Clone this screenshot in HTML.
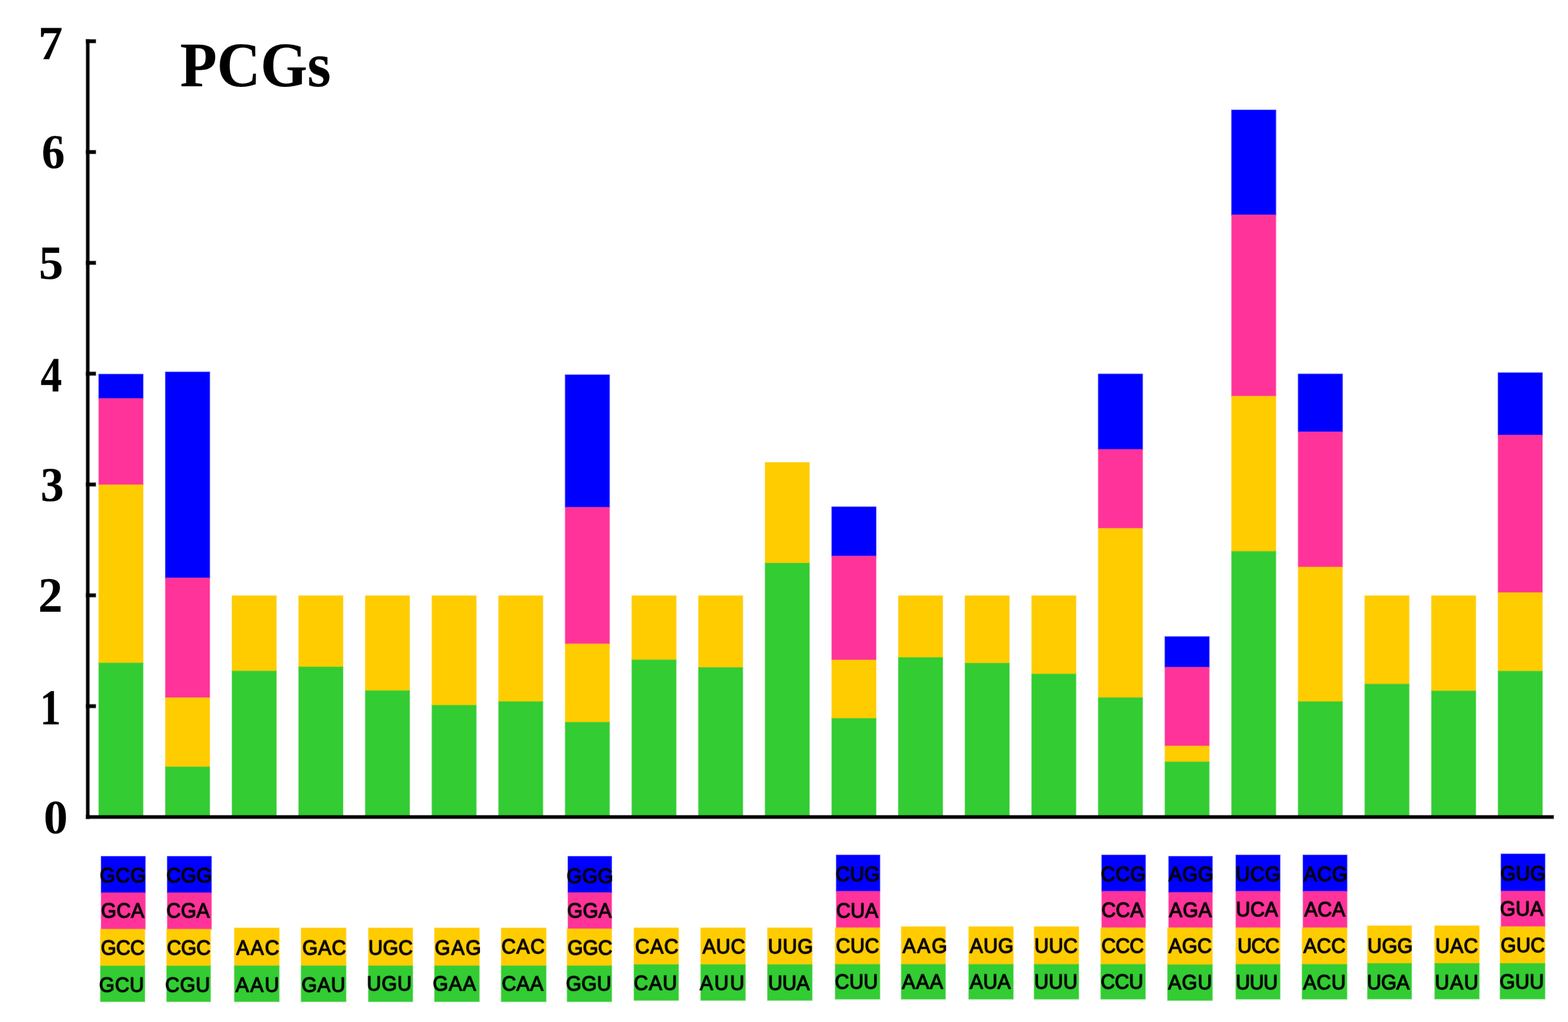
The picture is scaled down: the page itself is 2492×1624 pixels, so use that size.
<!DOCTYPE html>
<html lang="en"><head><meta charset="utf-8"><title>PCGs</title>
<style>
html,body{margin:0;padding:0;background:#fff;}
body{width:2492px;height:1624px;overflow:hidden;}
svg{display:block;}
#chart{width:2492px;height:1624px;overflow:hidden;}
text{font-kerning:none;text-rendering:geometricPrecision;}
.tk{font-family:"Liberation Serif","Times New Roman",serif;font-weight:bold;font-size:77px;fill:#000;stroke:#000;stroke-width:0.5;stroke-opacity:0.4;stroke-linejoin:round;}
.ti{font-family:"Liberation Serif","Times New Roman",serif;font-weight:bold;font-size:98px;fill:#000;stroke:#000;stroke-width:0.5;stroke-opacity:0.4;stroke-linejoin:round;}
.lg{font-family:"Liberation Sans",Arial,Helvetica,sans-serif;font-size:31.5px;fill:#000;stroke:#000;stroke-width:1.7;stroke-opacity:0.75;stroke-linejoin:round;}
rect{stroke-width:1.8;stroke-opacity:0.5;}
.b{fill:#0000ff;stroke:#0000ff}.p{fill:#ff3399;stroke:#ff3399}.y{fill:#ffcc00;stroke:#ffcc00}.g{fill:#33cc33;stroke:#33cc33}
#axes rect{stroke:#000}
</style></head><body><div id="chart">
<svg width="2492" height="1624" viewBox="0 0 2492 1624">
<g>
<rect x="-20" y="-20" width="2532" height="1664" fill="#fff"/>
<g id="bars">
<rect class="b" x="157.15" y="594.75" width="70.10" height="38.45"/>
<rect class="p" x="157.15" y="633.35" width="70.10" height="137.05"/>
<rect class="y" x="157.15" y="770.55" width="70.10" height="282.95"/>
<rect class="g" x="157.15" y="1053.65" width="70.10" height="243.35"/>
<rect class="b" x="263.05" y="591.25" width="70.10" height="327.15"/>
<rect class="p" x="263.05" y="918.55" width="70.10" height="190.15"/>
<rect class="y" x="263.05" y="1108.85" width="70.10" height="109.75"/>
<rect class="g" x="263.05" y="1218.75" width="70.10" height="78.25"/>
<rect class="y" x="368.95" y="946.75" width="70.10" height="119.55"/>
<rect class="g" x="368.95" y="1066.45" width="70.10" height="230.55"/>
<rect class="y" x="474.85" y="946.75" width="70.10" height="113.05"/>
<rect class="g" x="474.85" y="1059.95" width="70.10" height="237.05"/>
<rect class="y" x="580.75" y="946.75" width="70.10" height="150.75"/>
<rect class="g" x="580.75" y="1097.65" width="70.10" height="199.35"/>
<rect class="y" x="686.65" y="946.75" width="70.10" height="173.95"/>
<rect class="g" x="686.65" y="1120.85" width="70.10" height="176.15"/>
<rect class="y" x="792.55" y="946.75" width="70.10" height="168.15"/>
<rect class="g" x="792.55" y="1115.05" width="70.10" height="181.95"/>
<rect class="b" x="898.45" y="595.75" width="70.10" height="210.35"/>
<rect class="p" x="898.45" y="806.25" width="70.10" height="216.95"/>
<rect class="y" x="898.45" y="1023.35" width="70.10" height="124.35"/>
<rect class="g" x="898.45" y="1147.85" width="70.10" height="149.15"/>
<rect class="y" x="1004.35" y="946.75" width="70.10" height="101.85"/>
<rect class="g" x="1004.35" y="1048.75" width="70.10" height="248.25"/>
<rect class="y" x="1110.25" y="946.75" width="70.10" height="113.95"/>
<rect class="g" x="1110.25" y="1060.85" width="70.10" height="236.15"/>
<rect class="y" x="1216.15" y="734.95" width="70.10" height="159.95"/>
<rect class="g" x="1216.15" y="895.05" width="70.10" height="401.95"/>
<rect class="b" x="1322.05" y="805.55" width="70.10" height="78.05"/>
<rect class="p" x="1322.05" y="883.75" width="70.10" height="165.05"/>
<rect class="y" x="1322.05" y="1048.95" width="70.10" height="92.65"/>
<rect class="g" x="1322.05" y="1141.75" width="70.10" height="155.25"/>
<rect class="y" x="1427.95" y="946.75" width="70.10" height="98.05"/>
<rect class="g" x="1427.95" y="1044.95" width="70.10" height="252.05"/>
<rect class="y" x="1533.85" y="946.75" width="70.10" height="107.15"/>
<rect class="g" x="1533.85" y="1054.05" width="70.10" height="242.95"/>
<rect class="y" x="1639.75" y="946.75" width="70.10" height="124.35"/>
<rect class="g" x="1639.75" y="1071.25" width="70.10" height="225.75"/>
<rect class="b" x="1745.65" y="594.45" width="70.10" height="119.65"/>
<rect class="p" x="1745.65" y="714.25" width="70.10" height="125.35"/>
<rect class="y" x="1745.65" y="839.75" width="70.10" height="268.85"/>
<rect class="g" x="1745.65" y="1108.75" width="70.10" height="188.25"/>
<rect class="b" x="1851.55" y="1011.75" width="70.10" height="48.45"/>
<rect class="p" x="1851.55" y="1060.35" width="70.10" height="125.15"/>
<rect class="y" x="1851.55" y="1185.65" width="70.10" height="25.05"/>
<rect class="g" x="1851.55" y="1210.85" width="70.10" height="86.15"/>
<rect class="b" x="1957.45" y="174.95" width="70.10" height="166.55"/>
<rect class="p" x="1957.45" y="341.65" width="70.10" height="287.95"/>
<rect class="y" x="1957.45" y="629.75" width="70.10" height="246.45"/>
<rect class="g" x="1957.45" y="876.35" width="70.10" height="420.65"/>
<rect class="b" x="2063.35" y="594.45" width="70.10" height="91.85"/>
<rect class="p" x="2063.35" y="686.45" width="70.10" height="214.65"/>
<rect class="y" x="2063.35" y="901.25" width="70.10" height="213.65"/>
<rect class="g" x="2063.35" y="1115.05" width="70.10" height="181.95"/>
<rect class="y" x="2169.25" y="946.75" width="70.10" height="140.35"/>
<rect class="g" x="2169.25" y="1087.25" width="70.10" height="209.75"/>
<rect class="y" x="2275.15" y="946.75" width="70.10" height="151.25"/>
<rect class="g" x="2275.15" y="1098.15" width="70.10" height="198.85"/>
<rect class="b" x="2381.05" y="592.45" width="70.10" height="98.95"/>
<rect class="p" x="2381.05" y="691.55" width="70.10" height="250.15"/>
<rect class="y" x="2381.05" y="941.85" width="70.10" height="124.65"/>
<rect class="g" x="2381.05" y="1066.65" width="70.10" height="230.35"/>
</g>
<g id="axes" fill="#000">
<rect x="137.15" y="62.95" width="4.65" height="1237.70"/>
<rect x="137.15" y="1295.85" width="2331.80" height="4.80"/>
<rect x="137.15" y="1119.55" width="14.80" height="5.10"/>
<rect x="137.15" y="943.45" width="14.80" height="5.10"/>
<rect x="137.15" y="767.35" width="14.80" height="5.10"/>
<rect x="137.15" y="591.25" width="14.80" height="5.10"/>
<rect x="137.15" y="415.15" width="14.80" height="5.10"/>
<rect x="137.15" y="239.05" width="14.80" height="5.10"/>
<rect x="137.15" y="62.95" width="14.80" height="5.10"/>
</g>
<g id="ylabels">
<text class="tk" transform="translate(60.80 93.50) scale(1.0106 0.9836)">7</text>
<text class="tk" transform="translate(66.20 267.40) scale(0.9543 1.0012)">6</text>
<text class="tk" transform="translate(61.70 442.60) scale(1.0087 0.9827)">5</text>
<text class="tk" transform="translate(64.40 621.90) scale(0.8822 1.0188)">4</text>
<text class="tk" transform="translate(64.40 795.80) scale(0.9589 1.0021)">3</text>
<text class="tk" transform="translate(60.80 971.80) scale(1.0056 1.0204)">2</text>
<text class="tk" transform="translate(63.50 1150.70) scale(0.8622 1.0374)">1</text>
<text class="tk" transform="translate(69.40 1323.50) scale(0.9891 0.9854)">0</text>
</g>
<g id="title">
<text class="ti" transform="translate(286.20 137.40) scale(0.9777 1.0285)">PCGs</text>
</g>
<g id="legend">
<rect class="b" x="160.95" y="1360.95" width="69.80" height="57.75"/>
<rect class="p" x="160.95" y="1418.85" width="69.80" height="57.65"/>
<rect class="y" x="159.75" y="1476.65" width="70.20" height="58.25"/>
<rect class="g" x="159.75" y="1535.05" width="70.20" height="56.50"/>
<rect class="b" x="266.05" y="1360.95" width="69.80" height="57.75"/>
<rect class="p" x="266.05" y="1418.85" width="69.80" height="57.65"/>
<rect class="y" x="265.05" y="1476.65" width="69.40" height="58.25"/>
<rect class="g" x="265.05" y="1535.05" width="69.40" height="56.50"/>
<rect class="y" x="372.65" y="1474.75" width="70.90" height="59.95"/>
<rect class="g" x="372.65" y="1534.85" width="70.90" height="56.70"/>
<rect class="y" x="478.75" y="1474.75" width="71.00" height="59.95"/>
<rect class="g" x="478.75" y="1534.85" width="71.00" height="56.70"/>
<rect class="y" x="585.65" y="1474.75" width="70.10" height="59.95"/>
<rect class="g" x="585.65" y="1534.85" width="70.10" height="56.70"/>
<rect class="y" x="690.75" y="1474.75" width="70.90" height="59.95"/>
<rect class="g" x="690.75" y="1534.85" width="70.90" height="56.70"/>
<rect class="y" x="796.75" y="1474.75" width="71.00" height="59.95"/>
<rect class="g" x="796.75" y="1534.85" width="71.00" height="56.70"/>
<rect class="b" x="902.85" y="1360.95" width="69.10" height="57.55"/>
<rect class="p" x="902.85" y="1418.65" width="69.10" height="57.25"/>
<rect class="y" x="901.45" y="1476.05" width="70.50" height="58.65"/>
<rect class="g" x="901.45" y="1534.85" width="70.50" height="56.70"/>
<rect class="y" x="1007.75" y="1474.55" width="70.50" height="58.25"/>
<rect class="g" x="1007.75" y="1532.95" width="70.50" height="56.60"/>
<rect class="y" x="1113.85" y="1474.55" width="70.60" height="58.25"/>
<rect class="g" x="1113.85" y="1532.95" width="70.60" height="56.60"/>
<rect class="y" x="1219.95" y="1474.55" width="70.60" height="58.25"/>
<rect class="g" x="1219.95" y="1532.95" width="70.60" height="56.60"/>
<rect class="b" x="1329.25" y="1358.85" width="69.00" height="57.55"/>
<rect class="p" x="1329.25" y="1416.55" width="69.00" height="57.65"/>
<rect class="y" x="1327.55" y="1474.35" width="70.70" height="58.05"/>
<rect class="g" x="1327.55" y="1532.55" width="70.70" height="55.00"/>
<rect class="y" x="1432.55" y="1472.65" width="69.90" height="59.75"/>
<rect class="g" x="1432.55" y="1532.55" width="69.90" height="55.00"/>
<rect class="y" x="1539.75" y="1472.65" width="70.50" height="59.75"/>
<rect class="g" x="1539.75" y="1532.55" width="70.50" height="55.00"/>
<rect class="y" x="1643.75" y="1472.65" width="70.50" height="59.75"/>
<rect class="g" x="1643.75" y="1532.55" width="70.50" height="55.00"/>
<rect class="b" x="1751.15" y="1358.85" width="69.20" height="57.55"/>
<rect class="p" x="1751.15" y="1416.55" width="69.20" height="57.65"/>
<rect class="y" x="1749.65" y="1474.35" width="70.50" height="58.05"/>
<rect class="g" x="1749.65" y="1532.55" width="70.50" height="55.00"/>
<rect class="b" x="1857.55" y="1360.95" width="69.10" height="57.15"/>
<rect class="p" x="1857.55" y="1418.25" width="69.10" height="55.95"/>
<rect class="y" x="1855.75" y="1474.35" width="70.90" height="58.65"/>
<rect class="g" x="1855.75" y="1533.15" width="70.90" height="56.50"/>
<rect class="b" x="1964.35" y="1358.85" width="69.90" height="57.55"/>
<rect class="p" x="1964.35" y="1416.55" width="69.90" height="57.65"/>
<rect class="y" x="1964.35" y="1474.35" width="69.90" height="58.05"/>
<rect class="g" x="1964.35" y="1532.55" width="69.90" height="55.00"/>
<rect class="b" x="2071.05" y="1358.85" width="69.60" height="57.55"/>
<rect class="p" x="2071.05" y="1416.55" width="69.60" height="57.65"/>
<rect class="y" x="2069.55" y="1474.35" width="71.00" height="58.05"/>
<rect class="g" x="2069.55" y="1532.55" width="71.00" height="55.00"/>
<rect class="y" x="2173.45" y="1471.25" width="69.80" height="59.65"/>
<rect class="g" x="2173.45" y="1531.05" width="69.80" height="56.30"/>
<rect class="y" x="2280.35" y="1471.25" width="70.40" height="59.65"/>
<rect class="g" x="2280.35" y="1531.05" width="70.40" height="56.30"/>
<rect class="b" x="2385.75" y="1357.15" width="69.50" height="58.85"/>
<rect class="p" x="2385.75" y="1416.15" width="69.50" height="56.35"/>
<rect class="y" x="2384.25" y="1472.65" width="71.00" height="58.25"/>
<rect class="g" x="2384.25" y="1531.05" width="71.00" height="56.30"/>
<text class="lg" transform="translate(158.50 1401.50) scale(1.0000 1.0400)" letter-spacing="0.69">GCG</text>
<text class="lg" transform="translate(160.60 1458.20) scale(1.0000 1.0400)" letter-spacing="0.20">GCA</text>
<text class="lg" transform="translate(160.20 1517.10) scale(1.0000 1.0400)" letter-spacing="-0.27">GCC</text>
<text class="lg" transform="translate(157.50 1575.90) scale(1.0000 1.0400)" letter-spacing="0.68">GCU</text>
<text class="lg" transform="translate(264.60 1401.90) scale(1.0000 1.0400)" letter-spacing="0.21">CGG</text>
<text class="lg" transform="translate(264.60 1458.20) scale(1.0000 1.0400)" letter-spacing="0.20">CGA</text>
<text class="lg" transform="translate(265.20 1517.10) scale(1.0000 1.0400)" letter-spacing="-0.27">CGC</text>
<text class="lg" transform="translate(262.50 1575.90) scale(1.0000 1.0400)" letter-spacing="0.68">CGU</text>
<text class="lg" transform="translate(375.60 1517.10) scale(1.0000 1.0400)" letter-spacing="1.63">AAC</text>
<text class="lg" transform="translate(374.60 1576.30) scale(1.0000 1.0400)" letter-spacing="2.08">AAU</text>
<text class="lg" transform="translate(480.40 1517.10) scale(1.0000 1.0400)" letter-spacing="0.68">GAC</text>
<text class="lg" transform="translate(479.20 1575.90) scale(1.0000 1.0400)" letter-spacing="0.66">GAU</text>
<text class="lg" transform="translate(585.50 1517.10) scale(1.0000 1.0400)" letter-spacing="0.20">UGC</text>
<text class="lg" transform="translate(583.00 1574.20) scale(1.0000 1.0400)" letter-spacing="0.68">UGU</text>
<text class="lg" transform="translate(691.10 1517.10) scale(1.0000 1.0400)" letter-spacing="1.67">GAG</text>
<text class="lg" transform="translate(687.70 1574.20) scale(1.0000 1.0400)" letter-spacing="1.17">GAA</text>
<text class="lg" transform="translate(796.90 1515.40) scale(1.0000 1.0400)" letter-spacing="1.15">CAC</text>
<text class="lg" transform="translate(797.40 1574.20) scale(1.0000 1.0400)" letter-spacing="0.71">CAA</text>
<text class="lg" transform="translate(900.50 1403.00) scale(1.0000 1.0400)" letter-spacing="0.25">GGG</text>
<text class="lg" transform="translate(901.50 1458.20) scale(1.0000 1.0400)" letter-spacing="0.21">GGA</text>
<text class="lg" transform="translate(902.00 1516.50) scale(1.0000 1.0400)" letter-spacing="-0.27">GGC</text>
<text class="lg" transform="translate(899.40 1573.80) scale(1.0000 1.0400)" letter-spacing="0.21">GGU</text>
<text class="lg" transform="translate(1009.50 1514.70) scale(1.0000 1.0400)" letter-spacing="1.16">CAC</text>
<text class="lg" transform="translate(1007.20 1572.50) scale(1.0000 1.0400)" letter-spacing="1.18">CAU</text>
<text class="lg" transform="translate(1116.40 1515.00) scale(1.0000 1.0400)" letter-spacing="0.67">AUC</text>
<text class="lg" transform="translate(1112.20 1572.50) scale(1.0000 1.0400)" letter-spacing="2.11">AUU</text>
<text class="lg" transform="translate(1220.50 1515.40) scale(1.0000 1.0400)" letter-spacing="0.72">UUG</text>
<text class="lg" transform="translate(1220.70 1572.50) scale(1.0000 1.0400)" letter-spacing="-0.28">UUA</text>
<text class="lg" transform="translate(1327.90 1400.20) scale(1.0000 1.0400)" letter-spacing="0.21">CUG</text>
<text class="lg" transform="translate(1328.90 1457.60) scale(1.0000 1.0400)" letter-spacing="0.21">CUA</text>
<text class="lg" transform="translate(1328.50 1514.30) scale(1.0000 1.0400)" letter-spacing="0.19">CUC</text>
<text class="lg" transform="translate(1326.70 1571.00) scale(1.0000 1.0400)" letter-spacing="0.21">CUU</text>
<text class="lg" transform="translate(1434.50 1514.30) scale(1.0000 1.0400)" letter-spacing="2.08">AAG</text>
<text class="lg" transform="translate(1433.50 1571.00) scale(1.0000 1.0400)" letter-spacing="1.16">AAA</text>
<text class="lg" transform="translate(1541.20 1514.30) scale(1.0000 1.0400)" letter-spacing="0.69">AUG</text>
<text class="lg" transform="translate(1541.20 1571.00) scale(1.0000 1.0400)" letter-spacing="0.17">AUA</text>
<text class="lg" transform="translate(1644.00 1514.30) scale(1.0000 1.0400)" letter-spacing="0.21">UUC</text>
<text class="lg" transform="translate(1643.80 1571.00) scale(1.0000 1.0400)" letter-spacing="0.17">UUU</text>
<text class="lg" transform="translate(1749.50 1399.80) scale(1.0000 1.0400)" letter-spacing="0.65">CCG</text>
<text class="lg" transform="translate(1750.40 1457.20) scale(1.0000 1.0400)" letter-spacing="0.20">CCA</text>
<text class="lg" transform="translate(1750.40 1514.30) scale(1.0000 1.0400)" letter-spacing="-0.27">CCC</text>
<text class="lg" transform="translate(1749.20 1571.00) scale(1.0000 1.0400)" letter-spacing="-0.27">CCU</text>
<text class="lg" transform="translate(1857.20 1400.20) scale(1.0000 1.0400)" letter-spacing="0.69">AGG</text>
<text class="lg" transform="translate(1858.00 1456.50) scale(1.0000 1.0400)" letter-spacing="0.67">AGA</text>
<text class="lg" transform="translate(1857.20 1514.30) scale(1.0000 1.0400)" letter-spacing="0.20">AGC</text>
<text class="lg" transform="translate(1856.60 1572.10) scale(1.0000 1.0400)" letter-spacing="0.68">AGU</text>
<text class="lg" transform="translate(1963.70 1399.80) scale(1.0000 1.0400)" letter-spacing="0.63">UCG</text>
<text class="lg" transform="translate(1964.20 1456.10) scale(1.0000 1.0400)" letter-spacing="0.20">UCA</text>
<text class="lg" transform="translate(1966.70 1514.30) scale(1.0000 1.0400)" letter-spacing="-0.75">UCC</text>
<text class="lg" transform="translate(1964.00 1572.10) scale(1.0000 1.0400)" letter-spacing="-0.70">UUU</text>
<text class="lg" transform="translate(2071.90 1399.80) scale(1.0000 1.0400)" letter-spacing="0.68">ACG</text>
<text class="lg" transform="translate(2072.90 1456.10) scale(1.0000 1.0400)" letter-spacing="0.19">ACA</text>
<text class="lg" transform="translate(2071.50 1514.30) scale(1.0000 1.0400)" letter-spacing="0.21">ACC</text>
<text class="lg" transform="translate(2070.90 1572.10) scale(1.0000 1.0400)" letter-spacing="0.65">ACU</text>
<text class="lg" transform="translate(2173.20 1514.30) scale(1.0000 1.0400)" letter-spacing="0.20">UGG</text>
<text class="lg" transform="translate(2172.60 1572.10) scale(1.0000 1.0400)" letter-spacing="-0.27">UGA</text>
<text class="lg" transform="translate(2281.20 1514.30) scale(1.0000 1.0400)" letter-spacing="0.69">UAC</text>
<text class="lg" transform="translate(2280.60 1571.70) scale(1.0000 1.0400)" letter-spacing="1.16">UAU</text>
<text class="lg" transform="translate(2384.40 1398.80) scale(1.0000 1.0400)" letter-spacing="0.20">GUG</text>
<text class="lg" transform="translate(2384.00 1455.10) scale(1.0000 1.0400)" letter-spacing="0.20">GUA</text>
<text class="lg" transform="translate(2385.00 1513.30) scale(1.0000 1.0400)" letter-spacing="0.18">GUC</text>
<text class="lg" transform="translate(2383.20 1571.00) scale(1.0000 1.0400)" letter-spacing="0.24">GUU</text>
</g>
</g>
</svg>
</div></body></html>
